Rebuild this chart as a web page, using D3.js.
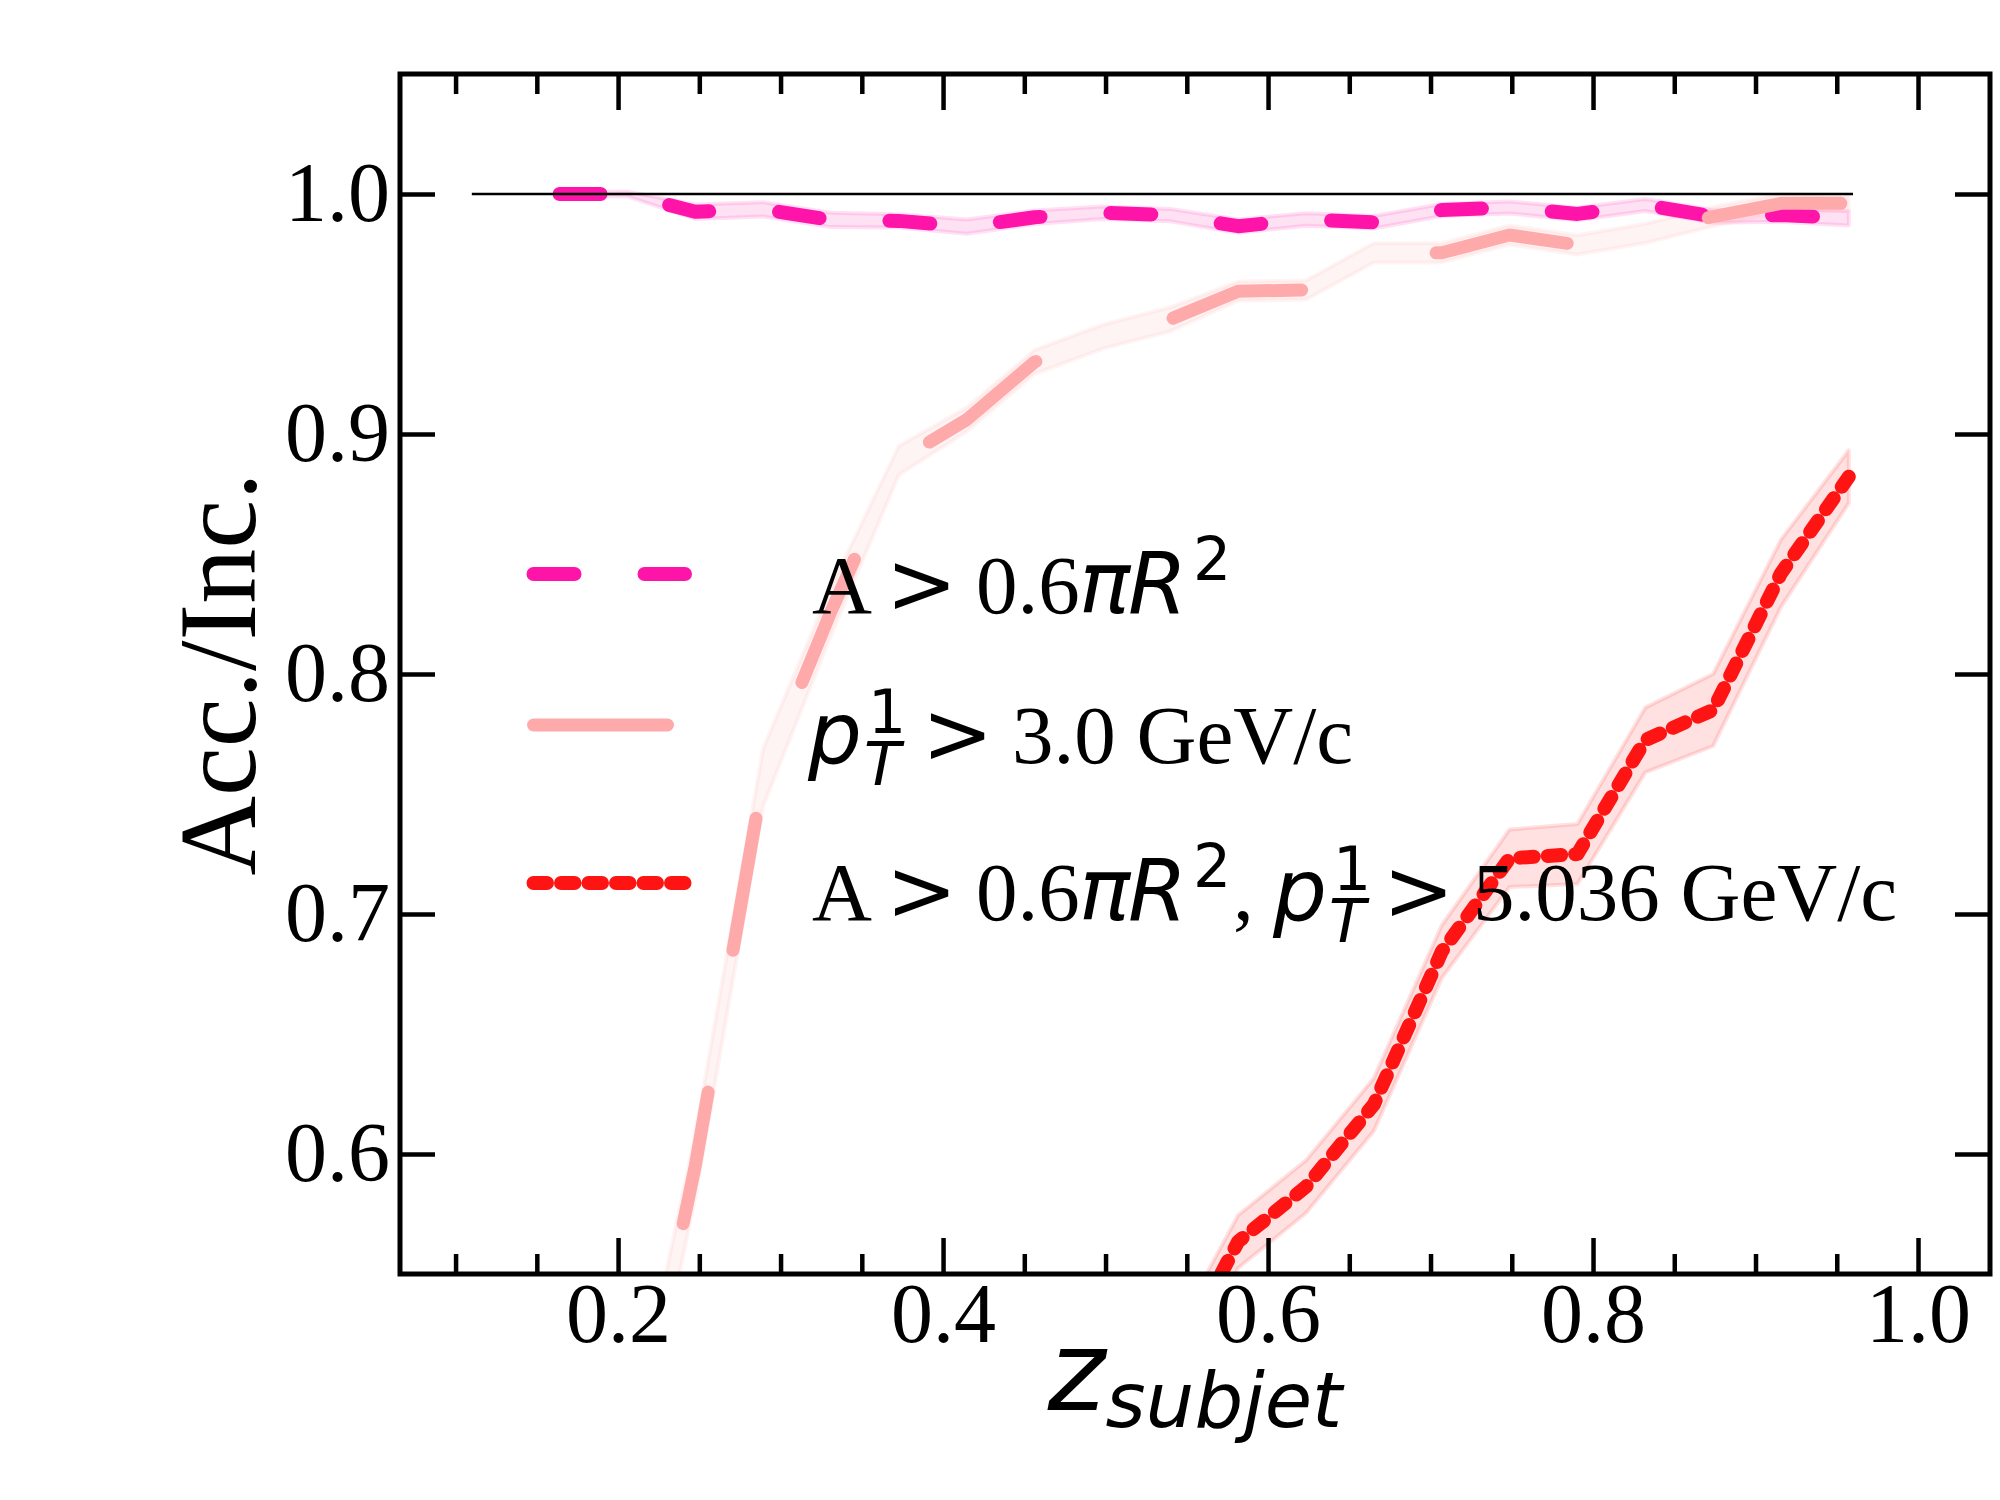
<!DOCTYPE html>
<html><head><meta charset="utf-8">
<script src="https://cdn.jsdelivr.net/npm/d3@7"></script>
<style>body{margin:0;background:#fff}</style>
</head><body>
<svg id="chart" width="2000" height="1500"></svg>
<script>
// ---------------- data ----------------
const zBins = [0.1640, 0.2058, 0.2475, 0.2893, 0.3310, 0.3728, 0.4146, 0.4563, 0.4981, 0.5398,
               0.5816, 0.6234, 0.6651, 0.7069, 0.7486, 0.7904, 0.8322, 0.8739, 0.9157, 0.9574];
// A > 0.6 pi R^2
const areaCut    = [1.0000, 1.0000, 0.9926, 0.9936, 0.9892, 0.9888, 0.9864, 0.9903, 0.9922, 0.9912,
                    0.9866, 0.9894, 0.9882, 0.9933, 0.9944, 0.9917, 0.9954, 0.9906, 0.9912, 0.9899];
const areaCutErr = [0.0005, 0.0010, 0.0030, 0.0030, 0.0030, 0.0028, 0.0030, 0.0028, 0.0026, 0.0026,
                    0.0028, 0.0026, 0.0026, 0.0025, 0.0025, 0.0026, 0.0025, 0.0026, 0.0028, 0.0030];
// pT^1 > 3.0 GeV/c
const ptCut      = [null,   0.460,  0.595,  0.757,  0.826,  0.889,  0.906,  0.930,  0.9405, 0.9478,
                    0.9595, 0.9600, 0.9755, 0.9755, 0.9829, 0.9788, 0.9836, 0.9906, 0.9961, 0.9961];
const ptCutErr   = [null,   0.015,  0.013,  0.012,  0.010,  0.006,  0.005,  0.005,  0.005,  0.005,
                    0.004,  0.004,  0.004,  0.004,  0.004,  0.004,  0.004,  0.004,  0.004,  0.003];
// A > 0.6 pi R^2, pT^1 > 5.036 GeV/c
const bothCut    = [null, null, null, null, null, null, null, null, null, 0.510,
                    0.5635, 0.5864, 0.6206, 0.6843, 0.7232, 0.7250, 0.7725, 0.7850, 0.8420, 0.8822];
const bothCutErr = [null, null, null, null, null, null, null, null, null, 0.012,
                    0.011, 0.011, 0.011, 0.011, 0.012, 0.0125, 0.0135, 0.015, 0.014, 0.011];
const refLineX = [0.110, 0.960];
const refLineY = 1.0;

const xMajorTicks = [0.2, 0.4, 0.6, 0.8, 1.0];
const xMinorTicks = [0.10, 0.15, 0.25, 0.30, 0.35, 0.45, 0.50, 0.55, 0.65, 0.70, 0.75, 0.85, 0.90, 0.95];
const yMajorTicks = [0.6, 0.7, 0.8, 0.9, 1.0];
const xDomain = [0.0658, 1.0443];
const yDomain = [0.55, 1.05];

// ---------------- layout ----------------
const W = 2000, H = 1500;
const L = 400, R = 1990, T = 74, B = 1274;
const SERIF = "'Liberation Serif','Times New Roman',serif";
const SANS = "'DejaVu Sans',sans-serif";

const svg = d3.select("#chart");
const x = d3.scaleLinear(xDomain, [L, R]);
const y = d3.scaleLinear(yDomain, [B, T]);

svg.append("defs").append("clipPath").attr("id", "clip")
  .append("rect").attr("x", L).attr("y", T).attr("width", R - L).attr("height", B - T);

const series = [
  {vals: areaCut, errs: areaCutErr, color: "#ff14aa", width: 14, dash: "41 70", offset: 0},
  {vals: ptCut,   errs: ptCutErr,   color: "#ffaaaa", width: 13, dash: "134 144", offset: 6},
  {vals: bothCut, errs: bothCutErr, color: "#ff1414", width: 14, dash: "13.5 14", offset: 0}
];

const plot = svg.append("g").attr("clip-path", "url(#clip)");

// bands
series.forEach(s => {
  const pts = zBins.map((z, i) => ({z, v: s.vals[i], e: s.errs[i]})).filter(d => d.v != null);
  const area = d3.area().x(d => x(d.z)).y0(d => y(d.v - d.e)).y1(d => y(d.v + d.e));
  plot.append("path").attr("d", area(pts))
    .attr("fill", s.color).attr("fill-opacity", 0.13)
    .attr("stroke", s.color).attr("stroke-opacity", 0.13).attr("stroke-width", 4)
    .attr("stroke-linejoin", "round");
});
// lines
series.forEach(s => {
  const pts = zBins.map((z, i) => ({z, v: s.vals[i]})).filter(d => d.v != null);
  const line = d3.line().x(d => x(d.z)).y(d => y(d.v));
  plot.append("path").attr("d", line(pts))
    .attr("fill", "none").attr("stroke", s.color).attr("stroke-width", s.width)
    .attr("stroke-dasharray", s.dash).attr("stroke-dashoffset", s.offset)
    .attr("stroke-linecap", "round").attr("stroke-linejoin", "round");
});
// reference line at 1
plot.append("line")
  .attr("x1", x(refLineX[0])).attr("x2", x(refLineX[1]))
  .attr("y1", y(refLineY)).attr("y2", y(refLineY))
  .attr("stroke", "#000").attr("stroke-width", 2.5);

// ---------------- legend ----------------
const legX0 = 533.5, legX1 = 685, txtX = 812;
const rows = [
  {ly: 574, base: 613, s: series[0]},
  {ly: 725, base: 763, s: series[1]},
  {ly: 883, base: 920, s: series[2]}
];
const leg = svg.append("g");
rows.forEach(r => {
  leg.append("path").attr("d", d3.line()([[legX0, r.ly], [legX1, r.ly]]))
    .attr("fill", "none").attr("stroke", r.s.color).attr("stroke-width", r.s.width)
    .attr("stroke-dasharray", r.s.dash).attr("stroke-linecap", "round");
});
const FS = 85, FSR = 83, FSS = 60;
function piece(t, str, dx, base, family, opts = {}) {
  t.append("tspan").attr("x", txtX + dx).attr("y", base)
    .attr("font-family", family).attr("font-size", opts.size || FS)
    .attr("font-style", opts.italic ? "italic" : "normal").text(str);
}
function areaLabel(t, base) {
  piece(t, "A", 0, base, SERIF, {size: FSR});
  piece(t, ">", 74, base, SANS);
  piece(t, "0.6", 164, base, SERIF, {size: FSR});
  piece(t, "\u03C0", 267, base, SANS, {italic: true});
  piece(t, "R", 316, base, SANS, {italic: true});
  piece(t, "2", 381, base - 33, SANS, {size: FSS});
}
function ptLabel(t, base, dx0, num, gtShift) {
  piece(t, "p", dx0 - 4, base, SANS, {italic: true});
  piece(t, "1", dx0 + 56, base - 30, SANS, {size: FSS});
  piece(t, "T", dx0 + 52, base + 22, SANS, {size: FSS, italic: true});
  piece(t, ">", dx0 + 110 + gtShift, base, SANS);
  piece(t, num, dx0 + 200 + gtShift, base, SERIF, {size: FSR});
}
const t1 = leg.append("text").attr("fill", "#000");
areaLabel(t1, rows[0].base);
const t2 = leg.append("text").attr("fill", "#000");
ptLabel(t2, rows[1].base, 0, "3.0 GeV/c", 0);
const t3 = leg.append("text").attr("fill", "#000");
areaLabel(t3, rows[2].base);
piece(t3, ",", 421, rows[2].base, SERIF, {size: FSR});
ptLabel(t3, rows[2].base, 465, "5.036 GeV/c", -4);

// ---------------- axes ----------------
function styleAxis(g) {
  g.select(".domain").remove();
  g.selectAll(".tick line").attr("stroke", "#000").attr("stroke-width", 4.5);
  g.selectAll(".tick text").attr("font-family", SERIF).attr("font-size", 84).attr("fill", "#000");
}
const fmt = d3.format(".1f");
svg.append("g").attr("transform", `translate(0,${B})`)
  .call(d3.axisBottom(x).tickValues(xMajorTicks).tickFormat(fmt).tickSize(-36).tickPadding(8))
  .call(styleAxis);
svg.append("g").attr("transform", `translate(0,${B})`)
  .call(d3.axisBottom(x).tickValues(xMinorTicks).tickFormat("").tickSize(-20))
  .call(styleAxis);
svg.append("g").attr("transform", `translate(0,${T})`)
  .call(d3.axisTop(x).tickValues(xMajorTicks).tickFormat("").tickSize(-36))
  .call(styleAxis);
svg.append("g").attr("transform", `translate(0,${T})`)
  .call(d3.axisTop(x).tickValues(xMinorTicks).tickFormat("").tickSize(-20))
  .call(styleAxis);
svg.append("g").attr("transform", `translate(${L},0)`)
  .call(d3.axisLeft(y).tickValues(yMajorTicks).tickFormat(fmt).tickSize(-35).tickPadding(10))
  .call(styleAxis);
svg.append("g").attr("transform", `translate(${R},0)`)
  .call(d3.axisRight(y).tickValues(yMajorTicks).tickFormat("").tickSize(-35))
  .call(styleAxis);

svg.append("rect").attr("x", L).attr("y", T).attr("width", R - L).attr("height", B - T)
  .attr("fill", "none").attr("stroke", "#000").attr("stroke-width", 5);

// axis labels
svg.append("text")
  .attr("transform", `translate(255,${(T + B) / 2}) rotate(-90)`)
  .attr("text-anchor", "middle").attr("font-family", SERIF).attr("font-size", 110)
  .attr("fill", "#000").text("Acc./Inc.");

const xl = svg.append("text").attr("x", (L + R) / 2).attr("y", 1410)
  .attr("text-anchor", "middle").attr("fill", "#000");
xl.append("tspan").attr("font-family", SANS).attr("font-style", "italic").attr("font-size", 110).text("z");
xl.append("tspan").attr("font-family", SANS).attr("font-style", "italic").attr("font-size", 77)
  .attr("dy", 17).text("subjet");
</script>
</body></html>
